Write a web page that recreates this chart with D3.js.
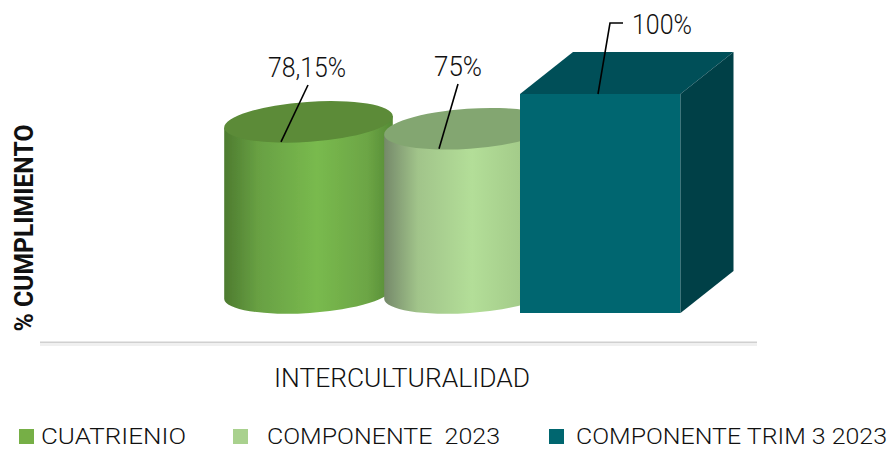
<!DOCTYPE html>
<html>
<head>
<meta charset="utf-8">
<script src="https://cdn.jsdelivr.net/npm/d3@7"></script>
<style>
  html, body { margin: 0; padding: 0; background: #fff; }
  text { font-family: Roboto, sans-serif; font-weight: 300; fill: #111; }
</style>
</head>
<body>
<svg id="chart" width="889" height="449" style="display:block"></svg>
<script>
var width = 889;
var height = 449;

// data
var category = "INTERCULTURALIDAD";
var seriesNames = ["CUATRIENIO", "COMPONENTE  2023", "COMPONENTE TRIM 3 2023"];
var seriesValues = [78.15, 75, 100];
var valueLabels = ["78,15%", "75%", "100%"];
var yTitle = "% CUMPLIMIENTO";

// scales
var y = d3.scaleLinear().domain([0, 100]).range([313, 94]);
var barLeft = d3.scaleOrdinal().domain(seriesNames).range([224, 384, 520]);
var barWidth = d3.scaleOrdinal().domain(seriesNames).range([169, 169, 160.5]);

var rx = 84.5, ry = 20, tilt = -4;
var depthX = 53, depthY = 42;
var dx = rx * Math.cos(tilt * Math.PI / 180);
var dy = rx * Math.sin(tilt * Math.PI / 180);

var svg = d3.select("#chart");
var defs = svg.append("defs");

defs.append("filter").attr("id", "soft").append("feGaussianBlur").attr("stdDeviation", 0.5);

function addGradient(id, stops) {
  var g = defs.append("linearGradient").attr("id", id)
    .attr("x1", 0).attr("x2", 1).attr("y1", 0).attr("y2", 0);
  stops.forEach(function(s) {
    g.append("stop").attr("offset", s[0]).attr("stop-color", s[1]);
  });
}
addGradient("cyl0", [[0, "#4d7b2f"], [0.2, "#68a043"], [0.55, "#79ba4e"], [0.85, "#6ca545"], [1, "#558a35"]]);
addGradient("cyl1", [[0, "#75896a"], [0.2, "#a1c48a"], [0.52, "#b3de98"], [0.8, "#a4cc8a"], [1, "#8fb37a"]]);

// axis line
svg.append("rect").attr("x", 40).attr("y", 342).attr("width", 717).attr("height", 4).attr("fill", "#f0f0f0");
svg.append("rect").attr("x", 40).attr("y", 341.5).attr("width", 717).attr("height", 1.5).attr("fill", "#d0d0d0");

var marks = svg.append("g").attr("filter", "url(#soft)");

// two cylinders
var capColors = ["#5b8b38", "#83a671"];
seriesNames.slice(0, 2).forEach(function(name, i) {
  var cx = barLeft(name) + barWidth(name) / 2;
  var yTop = y(seriesValues[i]) - ry;
  var yBottom = y(0) - ry;
  var body = "M" + (cx - dx) + "," + (yTop - dy)
    + " L" + (cx - dx) + "," + (yBottom - dy)
    + " A" + rx + "," + ry + " " + tilt + " 0 0 " + (cx + dx) + "," + (yBottom + dy)
    + " L" + (cx + dx) + "," + (yTop + dy) + " Z";
  marks.append("path").attr("d", body).attr("fill", "url(#cyl" + i + ")");
  marks.append("ellipse")
    .attr("rx", rx).attr("ry", ry)
    .attr("transform", "translate(" + cx + "," + yTop + ") rotate(" + tilt + ")")
    .attr("fill", capColors[i]);
});

// box
var boxName = seriesNames[2];
var bx0 = barLeft(boxName);
var bx1 = bx0 + barWidth(boxName);
var by0 = y(seriesValues[2]);
var by1 = y(0);
function poly(pts, color) {
  marks.append("polygon").attr("points", pts.map(function(p) { return p.join(","); }).join(" ")).attr("fill", color);
}
poly([[bx0, by0], [bx1, by0], [bx1, by1], [bx0, by1]], "#00666f");
poly([[bx0, by0], [bx0 + depthX, by0 - depthY], [bx1 + depthX, by0 - depthY], [bx1, by0]], "#004f58");
poly([[bx1, by0], [bx1 + depthX, by0 - depthY], [bx1 + depthX, by1 - depthY], [bx1, by1]], "#003f47");

// leader lines
var leaderLine = d3.line();
var leaders = [
  [[281, y(seriesValues[0])], [308, 85]],
  [[439, y(seriesValues[1])], [458, 84]],
  [[598, y(seriesValues[2])], [610, 23], [623, 23]]
];
leaders.forEach(function(pts) {
  svg.append("path").attr("d", leaderLine(pts)).attr("fill", "none").attr("stroke", "#000").attr("stroke-width", 1.6);
});

// value labels
var labelPos = [[307, 77], [458, 76], [662, 34]];
valueLabels.forEach(function(label, i) {
  svg.append("text").attr("x", labelPos[i][0]).attr("y", labelPos[i][1])
    .attr("text-anchor", "middle").attr("font-size", 27)
    .attr("textLength", [78, 48, 60][i]).attr("lengthAdjust", "spacingAndGlyphs")
    .text(label);
});

// category label
svg.append("text").attr("x", 402).attr("y", 387).attr("text-anchor", "middle")
  .attr("font-size", 26).attr("textLength", 256).attr("lengthAdjust", "spacingAndGlyphs")
  .text(category);

// y title
svg.append("text").attr("transform", "translate(33,228) rotate(-90)").attr("text-anchor", "middle")
  .attr("font-size", 26).style("font-weight", 700).attr("textLength", 207).attr("lengthAdjust", "spacingAndGlyphs")
  .text(yTitle);

// legend
var legendColors = ["#76af46", "#a9d18e", "#00666f"];
var legendSwatchX = [19, 233, 549];
var legendTextX = [41, 267, 576];
var legendTextW = [145, 233, 311];
seriesNames.forEach(function(name, i) {
  svg.append("rect").attr("x", legendSwatchX[i]).attr("y", 429).attr("width", 15).attr("height", 15).attr("fill", legendColors[i]);
  svg.append("text").attr("x", legendTextX[i]).attr("y", 443.5)
    .attr("font-size", 21.5).style("white-space", "pre")
    .attr("textLength", legendTextW[i]).attr("lengthAdjust", "spacingAndGlyphs")
    .text(name);
});
</script>
</body>
</html>
